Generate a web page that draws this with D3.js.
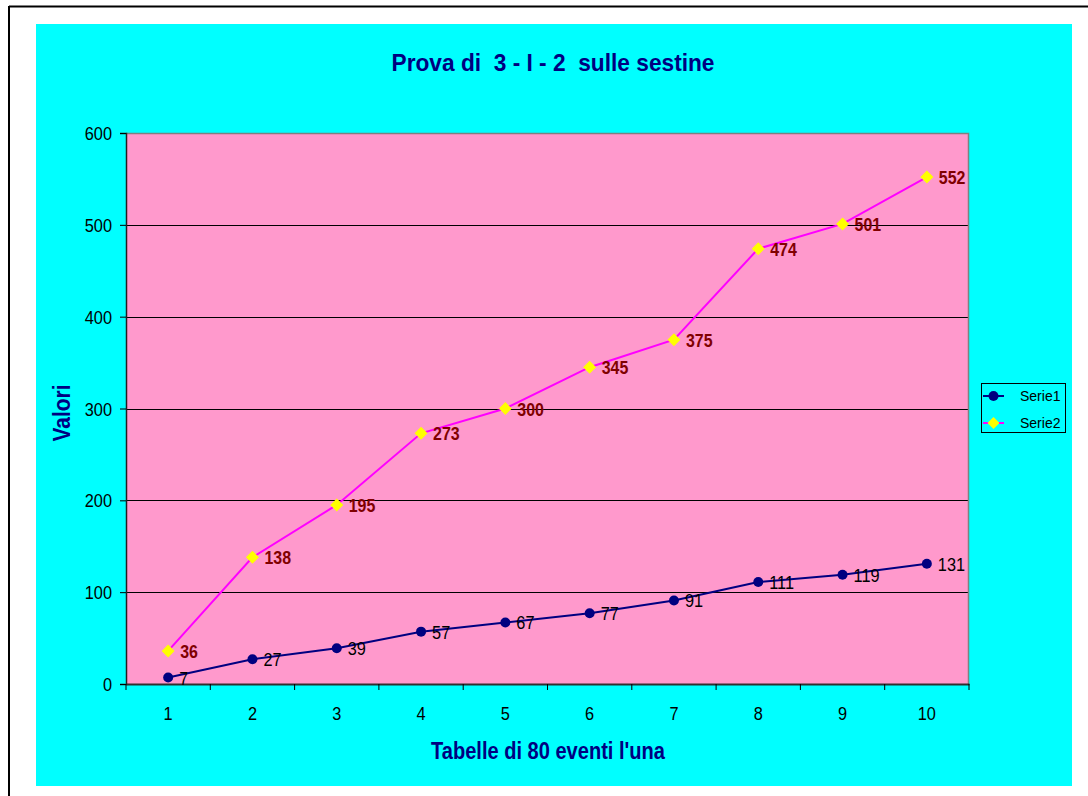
<!DOCTYPE html>
<html>
<head>
<meta charset="utf-8">
<script src="https://cdn.jsdelivr.net/npm/d3@7"></script>
<style>
  html, body { margin: 0; padding: 0; background: #ffffff; }
  svg { display: block; }
  text { font-family: "Liberation Sans", Arial, sans-serif; white-space: pre; }
</style>
</head>
<body>
<script>
// Chart data
const categories = [1, 2, 3, 4, 5, 6, 7, 8, 9, 10];
const serie1 = [7, 27, 39, 57, 67, 77, 91, 111, 119, 131];
const serie2 = [36, 138, 195, 273, 300, 345, 375, 474, 501, 552];
const yTicks = [0, 100, 200, 300, 400, 500, 600];
const seriesNames = ["Serie1", "Serie2"];
const chartTitle = "Prova di  3 - I - 2  sulle sestine";
const xTitle = "Tabelle di 80 eventi l'una";
const yTitle = "Valori";

const W = 1088, H = 796;
const plot = { left: 126, top: 133, right: 969, bottom: 684 };

const svg = d3.select("body").append("svg")
  .attr("width", W).attr("height", H);

// Outer frame and chart area
svg.append("rect").attr("x", 0).attr("y", 0).attr("width", W).attr("height", H).attr("fill", "#ffffff");
svg.append("line").attr("x1", 9).attr("x2", W).attr("y1", 6.5).attr("y2", 6.5)
  .attr("stroke", "#000").attr("stroke-width", 2);
svg.append("line").attr("x1", 9).attr("x2", 9).attr("y1", 6).attr("y2", H)
  .attr("stroke", "#000").attr("stroke-width", 2);
svg.append("rect").attr("x", 36).attr("y", 24).attr("width", 1036).attr("height", 762)
  .attr("fill", "#00FFFF");

// Scales
const x = d3.scaleBand().domain(categories).range([plot.left, plot.right]);
const y = d3.scaleLinear().domain([0, 600]).range([plot.bottom, plot.top]);
const cx = d => x(d) + x.bandwidth() / 2;

// Plot area
svg.append("rect")
  .attr("x", plot.left).attr("y", plot.top)
  .attr("width", plot.right - plot.left).attr("height", plot.bottom - plot.top)
  .attr("fill", "#FF99CC");

// Gridlines
svg.append("g").selectAll("line").data(yTicks.filter(t => t > 0 && t < 600)).join("line")
  .attr("x1", plot.left).attr("x2", plot.right)
  .attr("y1", d => Math.round(y(d)) + 0.5).attr("y2", d => Math.round(y(d)) + 0.5)
  .attr("stroke", "#000").attr("stroke-width", 1);

// Plot frame top/right
svg.append("path")
  .attr("d", `M${plot.left},${plot.top + 0.5}H${plot.right - 0.5}V${plot.bottom}`)
  .attr("fill", "none").attr("stroke", "#808080").attr("stroke-width", 1.5);

// Helper for narrow text
function ntext(g, tx, ty, str, opts) {
  return g.append("text")
    .attr("transform", `translate(${tx},${ty}) scale(${opts.sx || 1},1)`)
    .attr("font-size", opts.size)
    .attr("font-weight", opts.weight || "normal")
    .attr("fill", opts.fill || "#000")
    .attr("text-anchor", opts.anchor || "start")
    .text(str);
}

// Y axis
const yAxis = svg.append("g").attr("transform", `translate(${plot.left},0)`)
  .call(d3.axisLeft(y).tickValues(yTicks).tickSize(6).tickFormat(""));
yAxis.select(".domain").attr("stroke", "#202020").attr("stroke-width", 1.5);
yAxis.selectAll(".tick line").attr("stroke", "#000");
yTicks.forEach(t => ntext(svg, 112, y(t) + 7, String(t), { size: 19, sx: 0.86, anchor: "end" }));

// X axis: ticks at band boundaries
const xAxis = svg.append("g").attr("transform", `translate(0,${plot.bottom})`)
  .call(d3.axisBottom(x).tickSize(0).tickFormat(""));
xAxis.select(".domain").attr("stroke", "#303030").attr("stroke-width", 2);
const boundaries = categories.map(c => x(c)).concat([x(categories[categories.length - 1]) + x.bandwidth()]);
svg.append("g").selectAll("line").data(boundaries).join("line")
  .attr("x1", d => d).attr("x2", d => d)
  .attr("y1", plot.bottom).attr("y2", plot.bottom + 6)
  .attr("stroke", "#000").attr("stroke-width", 1);
categories.forEach(c => ntext(svg, cx(c), 720, String(c), { size: 19, sx: 0.86, anchor: "middle" }));

// Lines
const line = d3.line().x((d, i) => cx(categories[i])).y(d => y(d));
svg.append("path").datum(serie1).attr("d", line)
  .attr("fill", "none").attr("stroke", "#000080").attr("stroke-width", 2);
svg.append("path").datum(serie2).attr("d", line)
  .attr("fill", "none").attr("stroke", "#FF00FF").attr("stroke-width", 2);

// Markers
svg.append("g").selectAll("circle").data(serie1).join("circle")
  .attr("cx", (d, i) => cx(categories[i])).attr("cy", d => y(d))
  .attr("r", 5).attr("fill", "#000080");
const diamond = s => `M0,${-s}L${s},0L0,${s}L${-s},0Z`;
svg.append("g").selectAll("path").data(serie2).join("path")
  .attr("transform", (d, i) => `translate(${cx(categories[i])},${y(d)})`)
  .attr("d", diamond(6.5)).attr("fill", "#FFFF00");

// Data labels
serie1.forEach((v, i) => ntext(svg, cx(categories[i]) + 11, y(v) + 7, String(v), { size: 19, sx: 0.86 }));
serie2.forEach((v, i) => ntext(svg, cx(categories[i]) + 12, y(v) + 7, String(v),
  { size: 19, sx: 0.84, weight: "bold", fill: "#800000" }));

// Titles
svg.append("text").attr("x", 553).attr("y", 71)
  .attr("font-size", 24).attr("font-weight", "bold").attr("fill", "#000080")
  .attr("text-anchor", "middle").attr("textLength", 323).attr("lengthAdjust", "spacingAndGlyphs")
  .attr("xml:space", "preserve")
  .text(chartTitle);
svg.append("text").attr("x", 548).attr("y", 759)
  .attr("font-size", 24).attr("font-weight", "bold").attr("fill", "#000080")
  .attr("text-anchor", "middle").attr("textLength", 234).attr("lengthAdjust", "spacingAndGlyphs")
  .text(xTitle);
svg.append("text").attr("transform", "translate(70,413) rotate(-90)")
  .attr("font-size", 24).attr("font-weight", "bold").attr("fill", "#000080")
  .attr("text-anchor", "middle").attr("textLength", 57).attr("lengthAdjust", "spacingAndGlyphs")
  .text(yTitle);

// Legend
const lg = svg.append("g");
lg.append("rect").attr("x", 981.5).attr("y", 383.5).attr("width", 84).attr("height", 49)
  .attr("fill", "#00FFFF").attr("stroke", "#000").attr("stroke-width", 1);
const legendRows = [
  { name: seriesNames[0], color: "#000080", marker: "circle", y: 396 },
  { name: seriesNames[1], color: "#FF00FF", marker: "diamond", y: 423 }
];
legendRows.forEach(r => {
  lg.append("line").attr("x1", 983).attr("x2", 1004).attr("y1", r.y).attr("y2", r.y)
    .attr("stroke", r.color).attr("stroke-width", 2);
  if (r.marker === "circle") {
    lg.append("circle").attr("cx", 993.5).attr("cy", r.y).attr("r", 5).attr("fill", "#000080");
  } else {
    lg.append("path").attr("transform", `translate(993.5,${r.y})`).attr("d", diamond(6)).attr("fill", "#FFFF00");
  }
  lg.append("text").attr("x", 1020).attr("y", r.y + 5)
    .attr("font-size", 14).attr("fill", "#000").text(r.name);
});
</script>
</body>
</html>
